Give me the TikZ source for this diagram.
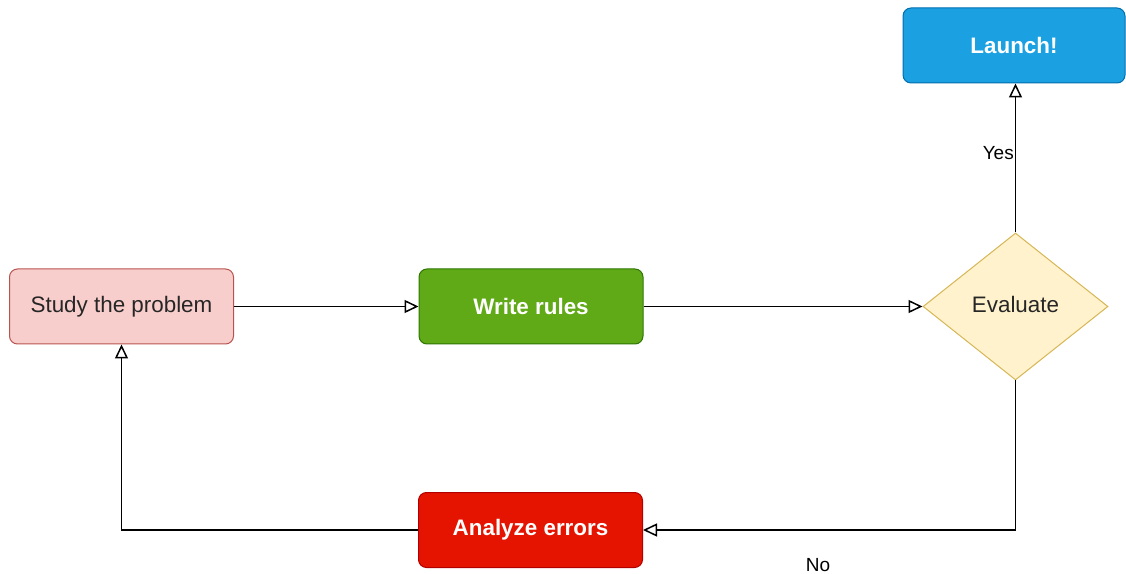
\documentclass[tikz,border=0pt]{standalone}
\usepackage{fontspec}
\setmainfont{Liberation Sans}
\usetikzlibrary{arrows.meta,shapes.geometric}
\definecolor{studyfill}{HTML}{F8CECC}
\definecolor{studydraw}{HTML}{B85450}
\definecolor{writefill}{HTML}{60A917}
\definecolor{writedraw}{HTML}{2D7600}
\definecolor{evalfill}{HTML}{FFF2CC}
\definecolor{evaldraw}{HTML}{D6B656}
\definecolor{launchfill}{HTML}{1BA1E2}
\definecolor{launchdraw}{HTML}{006EAF}
\definecolor{errfill}{HTML}{E51400}
\definecolor{errdraw}{HTML}{B20000}
\tikzset{
  box/.style={rectangle, rounded corners=8pt, minimum width=224pt, minimum height=75pt, line width=1pt, inner sep=0pt, font=\fontsize{22.4}{26}\selectfont},
  whitebox/.style={box, text=white, font=\fontsize{22.4}{26}\selectfont\bfseries},
  conn/.style={line width=1.5pt, -{Triangle[open, length=14pt, width=13pt, line width=1.5pt]}},
  lbl/.style={font=\fontsize{19}{22}\selectfont, inner sep=1pt}
}
\begin{document}
\begin{tikzpicture}[x=1pt,y=1pt]
\useasboundingbox (0,0) rectangle (1126,573);
\node[box, fill=studyfill, draw=studydraw, text=black!85] (study) at (121.5,266.5) {Study the problem};
\node[whitebox, fill=writefill, draw=writedraw] (write) at (531,266.5) {Write rules};
\node[diamond, aspect=1.26, minimum width=185pt, minimum height=147pt, inner sep=0pt, fill=evalfill, draw=evaldraw, line width=1pt, font=\fontsize{22.4}{26}\selectfont] (eval) at (1015.5,266.5) {};
\node[font=\fontsize{22.4}{26}\selectfont, text=black!85] (evaltext) at (1015.5,269) {Evaluate};
\node[whitebox, fill=launchfill, draw=launchdraw, minimum width=222pt] (launch) at (1014,527.5) {Launch!};
\node[whitebox, fill=errfill, draw=errdraw] (err) at (530.5,43) {Analyze errors};
\coordinate (c1) at (1015.5,43);
\coordinate (c2) at (121.5,43);
\draw[conn] (study.east) -- (write.west);
\draw[conn] (write.east) -- (eval.west);
\draw[conn] (eval.north) -- node[lbl, pos=0.53, anchor=east, inner sep=1pt] (yes) {Yes} (eval.north |- launch.south);
\draw[conn] (eval.south) -- (c1) -- (err.east);
\node[lbl, anchor=base] (no) at (818,2) {No};
\draw[conn] (err.west) -- (c2) -- (study.south);
\end{tikzpicture}
\end{document}
